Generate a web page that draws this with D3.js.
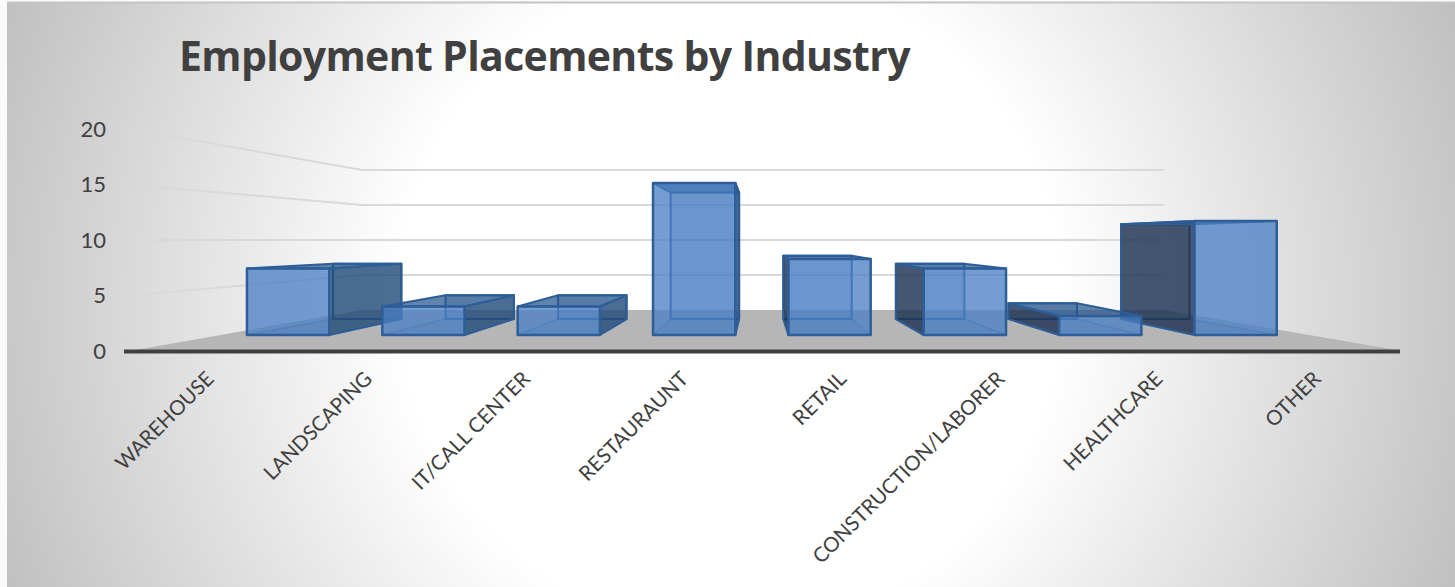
<!DOCTYPE html>
<html>
<head>
<meta charset="utf-8">
<script src="https://cdn.jsdelivr.net/npm/d3@7"></script>
<style>
  html, body { margin: 0; padding: 0; background: #fafafa; overflow: hidden; }
  text { font-family: Lato, "Open Sans", sans-serif; fill: #404040; }
</style>
</head>
<body>
<script>
// ------------------------------- Data ---------------------------------------
var categories = ["WAREHOUSE", "LANDSCAPING", "IT/CALL CENTER", "RESTAURAUNT", "RETAIL", "CONSTRUCTION/LABORER", "HEALTHCARE", "OTHER"];
var placements = [7, 3, 3, 16, 8, 7, 2, 12];
var yTicks = [0, 5, 10, 15, 20];
var chartTitle = "Employment Placements by Industry";

// ------------------------------- Setup --------------------------------------
var width = 1455, height = 587;

var svg = d3.select("body").append("svg")
  .attr("width", width)
  .attr("height", height)
  .style("display", "block");

var defs = svg.append("defs");
var bg = defs.append("radialGradient")
  .attr("id", "bg")
  .attr("gradientUnits", "userSpaceOnUse")
  .attr("cx", 730).attr("cy", 300).attr("r", 780);
bg.append("stop").attr("offset", 0.423).attr("stop-color", "#ffffff");
bg.append("stop").attr("offset", 1).attr("stop-color", "#c0c0c0");

svg.append("rect")
  .attr("x", 7).attr("y", 3)
  .attr("width", width - 7).attr("height", height - 3)
  .attr("fill", "url(#bg)");
svg.append("line")
  .attr("x1", 7).attr("x2", width).attr("y1", 2.5).attr("y2", 2.5)
  .attr("stroke", "#c4c4c4").attr("stroke-width", 2);

// Scales for the front plane of the 3D box
var x = d3.scaleBand().domain(categories).range([130, 1395]).paddingInner(0.392).paddingOuter(0.196);
var y = d3.scaleLinear().domain([0, 20]).range([351, 129]);

// Perspective: everything shrinks towards one vanishing point
var vanishX = 758, vanishY = 240;
var wallDepth = 0.63, barFront = 0.856, barBack = 0.712;

function project(px, py, s) {
  return [vanishX + (px - vanishX) * s, vanishY + (py - vanishY) * s];
}

// ------------------------------- Walls and floor ----------------------------
var floorLeft = 130, floorRight = 1402;

svg.append("path")
  .attr("d", d3.line()([
    project(floorLeft, y(0), 1),
    project(floorLeft, y(0), wallDepth),
    project(floorRight, y(0), wallDepth),
    project(floorRight, y(0), 1)
  ]) + "Z")
  .attr("fill", "#b6b6b6");

svg.append("g").selectAll("path")
  .data(yTicks.filter(function(d) { return d > 0; }))
  .enter().append("path")
  .attr("d", function(d) {
    return d3.line()([
      project(floorLeft, y(d), 1),
      project(floorLeft, y(d), wallDepth),
      project(floorRight, y(d), wallDepth)
    ]);
  })
  .attr("fill", "none")
  .attr("stroke", "#d9d9d9")
  .attr("stroke-width", 2);

svg.append("line")
  .attr("x1", 124).attr("x2", 1400)
  .attr("y1", y(0) + 0.5).attr("y2", y(0) + 0.5)
  .attr("stroke", "#404040")
  .attr("stroke-width", 4);

// ------------------------------- Bars ---------------------------------------
var bars = categories.map(function(c, i) { return { cat: c, value: placements[i] }; });

// outermost bars first, so the ones near the centre sit on top
bars.sort(function(a, b) {
  return Math.abs(x(b.cat) + x.bandwidth() / 2 - vanishX) - Math.abs(x(a.cat) + x.bandwidth() / 2 - vanishX);
});

function corners(d, side, s) {
  var px = side === "l" ? x(d.cat) : x(d.cat) + x.bandwidth();
  return [project(px, y(d.value), s), project(px, y(0), s)];
}

function face(d, kind) {
  var fl = corners(d, "l", barFront), fr = corners(d, "r", barFront);
  var bl = corners(d, "l", barBack), br = corners(d, "r", barBack);
  if (kind === "rear") return [bl[0], br[0], br[1], bl[1]];
  if (kind === "floor") return [fl[1], fr[1], br[1], bl[1]];
  if (kind === "left") return [fl[0], bl[0], bl[1], fl[1]];
  if (kind === "right") return [fr[0], br[0], br[1], fr[1]];
  if (kind === "top") return [fl[0], fr[0], br[0], bl[0]];
  return [fl[0], fr[0], fr[1], fl[1]];
}

var faceFill = {
  rear: "rgba(60,105,165,0.2)",
  floor: "rgba(60,105,165,0.15)",
  top: "rgba(38,84,140,0.72)",
  left: "rgba(28,48,78,0.78)",
  right: "rgba(32,72,118,0.76)",
  front: "rgba(72,126,195,0.76)"
};

var barG = svg.append("g").selectAll("g")
  .data(bars)
  .enter().append("g");

barG.each(function(d) {
  var isLeftOfCentre = x(d.cat) + x.bandwidth() / 2 < vanishX;
  var order = ["rear", "floor", isLeftOfCentre ? "right" : "left", "top", "front"];
  d3.select(this).selectAll("path")
    .data(order)
    .enter().append("path")
    .attr("d", function(k) { return d3.line()(face(d, k)) + "Z"; })
    .attr("fill", function(k) { return faceFill[k]; })
    .attr("stroke", function(k) { return k === "floor" ? "rgba(48,96,154,0.45)" : "#2e5e98"; })
    .attr("stroke-width", function(k) { return k === "front" ? 2.5 : k === "floor" ? 1.5 : 2; })
    .attr("stroke-linejoin", "round");
});

// ------------------------------- Axes and title -----------------------------
var yAxis = d3.axisLeft(y).tickValues(yTicks).tickSize(0).tickPadding(0);
svg.append("g")
  .attr("transform", "translate(106,0)")
  .call(yAxis)
  .call(function(g) { g.select(".domain").remove(); })
  .selectAll("text")
  .style("font-size", "22px");

var xAxis = d3.axisBottom(x).tickSize(0).tickPadding(0);
svg.append("g")
  .call(xAxis)
  .call(function(g) { g.select(".domain").remove(); })
  .selectAll("text")
  .style("font-size", "20.5px")
  .attr("text-anchor", "end")
  .attr("dy", "0.35em")
  .attr("y", 0)
  .attr("transform", "translate(1,375) rotate(-45)");

svg.append("text")
  .attr("x", 179)
  .attr("y", 71)
  .style("font-family", "'Open Sans', sans-serif")
  .style("font-size", "41px")
  .style("font-weight", "700")
  .style("letter-spacing", "-0.65px")
  .text(chartTitle);
</script>
</body>
</html>
